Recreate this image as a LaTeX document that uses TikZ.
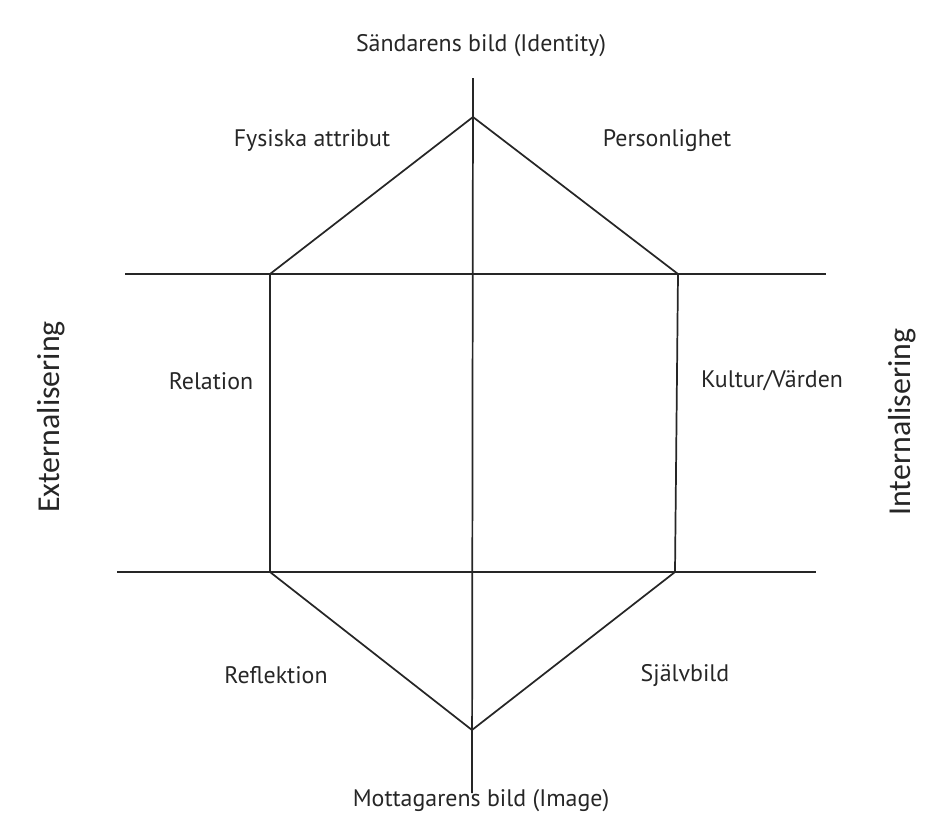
\documentclass[tikz,border=0pt]{standalone}
\usepackage{fontspec}
\usepackage{tikz}
\usetikzlibrary{positioning}
\newfontfamily\labelfont{PT Sans}
\newfontfamily\sidefont{Carlito}
\definecolor{Ink}{HTML}{262626}

\begin{document}
\begin{tikzpicture}[
  x=0.02646cm,y=-0.02646cm,
  axis/.style={draw=Ink,line width=1.3pt},
  edge/.style={draw=Ink,line width=1.3pt,line join=miter},
  label/.style={font=\labelfont\fontsize{18}{21}\selectfont,text=Ink,inner sep=0pt},
  side/.style={font=\sidefont\fontsize{24}{28}\selectfont,text=Ink,inner sep=0pt,rotate=90}
]
\useasboundingbox (0,0) rectangle (939,836);
% axes
\coordinate (vtop) at (473,78);
\coordinate (vbot) at (472,793);
\coordinate (hul) at (125,274);
\coordinate (hur) at (826,274);
\coordinate (hll) at (117,572);
\coordinate (hlr) at (816,572);
\draw[axis] (vtop) -- (vbot);
\draw[axis] (hul) -- (hur);
\draw[axis] (hll) -- (hlr);
% hexagon
\coordinate (top) at (473,117);
\coordinate (ul) at (270,274);
\coordinate (ur) at (678,274);
\coordinate (lr) at (675,572);
\coordinate (ll) at (270,572);
\coordinate (bot) at (472,730);
\draw[edge] (top) -- (ur) -- (lr) -- (bot) -- (ll) -- (ul) -- cycle;
% labels
\node[label] (ident) at (481,46) {Sändarens bild (Identity)};
\node[label] (fys) at (312,140) {Fysiska attribut};
\node[label] (pers) at (667,141) {Personlighet};
\node[label] (rel) at (211,381) {Relation};
\node[label] (kult) at (772,381) {Kultur/Värden};
\node[label] (refl) at (276,675) {Reflektion};
\node[label] (sjalv) at (685,676) {Självbild};
\node[label] (mott) at (481,801) {Mottagarens bild (Image)};
\node[side] (ext) at (51,417) {Externalisering};
\node[side] (int) at (902,422) {Internalisering};
\end{tikzpicture}
\end{document}
